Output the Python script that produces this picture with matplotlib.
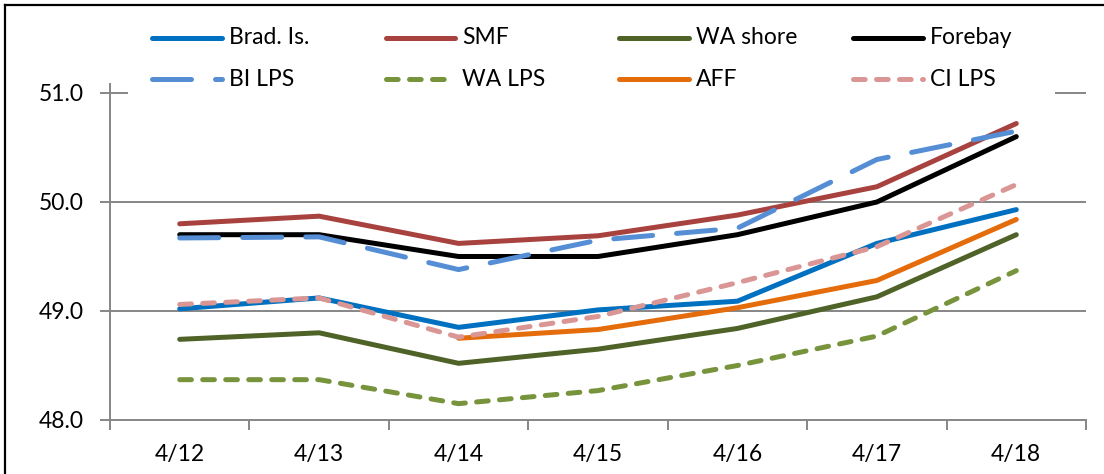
import numpy as np
import matplotlib
matplotlib.use("Agg")
import matplotlib.pyplot as plt
from matplotlib.lines import Line2D
from matplotlib.patches import Rectangle
from matplotlib import font_manager

names = {f.name for f in font_manager.fontManager.ttflist}
FONT = "Lato" if "Lato" in names else "Liberation Sans"
plt.rcParams['font.family'] = [FONT, 'DejaVu Sans']

# ---- data ----
dates = ['4/12', '4/13', '4/14', '4/15', '4/16', '4/17', '4/18']
brad_is = [49.02, 49.12, 48.85, 49.01, 49.09, 49.62, 49.93]
smf = [49.80, 49.87, 49.62, 49.69, 49.88, 50.14, 50.72]
wa_shore = [48.74, 48.80, 48.52, 48.65, 48.84, 49.13, 49.70]
forebay = [49.70, 49.70, 49.50, 49.50, 49.70, 50.00, 50.60]
bi_lps = [49.67, 49.68, 49.38, 49.65, 49.76, 50.39, 50.65]
wa_lps = [48.37, 48.37, 48.15, 48.27, 48.50, 48.77, 49.37]
aff = [np.nan, np.nan, 48.75, 48.83, 49.03, 49.28, 49.84]
ci_lps = [49.06, 49.12, 48.76, 48.95, 49.26, 49.59, 50.16]

labels = ['Brad. Is.', 'SMF', 'WA shore', 'Forebay', 'BI LPS', 'WA LPS', 'AFF', 'CI LPS']
series = [brad_is, smf, wa_shore, forebay, bi_lps, wa_lps, aff, ci_lps]
colors = ['#0070C0', '#A8423F', '#4F6228', '#000000', '#558ED5', '#77933C', '#E46C0A', '#D99694']
LONG = (7.8, 4.8)
SHORT = (2.34, 2.26)
dashes = [None, None, None, None, LONG, SHORT, None, SHORT]

W, H = 1104, 474
fig = plt.figure(figsize=(W / 100, H / 100), dpi=100)
ax = fig.add_axes([110 / W, 1 - 420 / H, (1086 - 110) / W, (420 - 84) / H])

LW = 3.6
x = np.arange(len(dates)) + 0.5
for vals, c, d in zip(series, colors, dashes):
    ln, = ax.plot(x, vals, color=c, lw=LW, solid_capstyle='round',
                  dash_capstyle='round', solid_joinstyle='round', dash_joinstyle='round')
    if d is not None:
        ln.set_dashes(d)

grid_c = '#868686'
ax.set_xlim(0, len(dates))
ax.set_ylim(48, 48 + (420 - 84) / 109)
ax.set_yticks([48, 49, 50, 51])
ax.set_yticklabels(['48.0', '49.0', '50.0', '51.0'])
ax.set_xticks(np.arange(len(dates) + 1))
ax.set_xticklabels([])
ax.set_xticks(x, minor=True)
ax.set_xticklabels(dates, minor=True)
ax.tick_params(axis='x', which='minor', length=0, pad=17, labelsize=16.5)
ax.tick_params(axis='x', which='major', length=7, width=1.4, color=grid_c, direction='out')
ax.tick_params(axis='y', length=7, width=1.4, color=grid_c, direction='out', pad=12, labelsize=16.5)
for s in ['top', 'right']:
    ax.spines[s].set_visible(False)
for s in ['left', 'bottom']:
    ax.spines[s].set_color(grid_c)
    ax.spines[s].set_linewidth(1.4)
for yv in [49, 50, 51]:
    ax.axhline(yv, color=grid_c, lw=1.4, zorder=0.5)

# legend box (white background covering gridline)
fig.add_artist(Rectangle((128 / W, 1 - 100 / H), (1055 - 128) / W, 85 / H,
                         transform=fig.transFigure, facecolor='white',
                         edgecolor='none', zorder=5))
for i, (lab, c, d) in enumerate(zip(labels, colors, dashes)):
    row, col = divmod(i, 4)
    x0 = 152 + col * 233.5
    yc = 38 if row == 0 else 79
    ln = Line2D([x0 / W, (x0 + 70) / W], [1 - yc / H, 1 - yc / H],
                transform=fig.transFigure, color=c, lw=LW,
                solid_capstyle='round', dash_capstyle='round', zorder=6)
    if d is not None:
        ln.set_dashes(d)
    fig.add_artist(ln)
    fig.text((x0 + 77) / W, 1 - yc / H, lab, fontsize=16.5, va='center',
             ha='left', zorder=7)

# figure border
fig.add_artist(Line2D([5 / W, 5 / W], [0, 1 - 5 / H], transform=fig.transFigure,
                      color='black', lw=1.6))
fig.add_artist(Line2D([5 / W, 1], [1 - 5 / H, 1 - 5 / H], transform=fig.transFigure,
                      color='black', lw=1.6))

fig.savefig('out.png', dpi=100)
